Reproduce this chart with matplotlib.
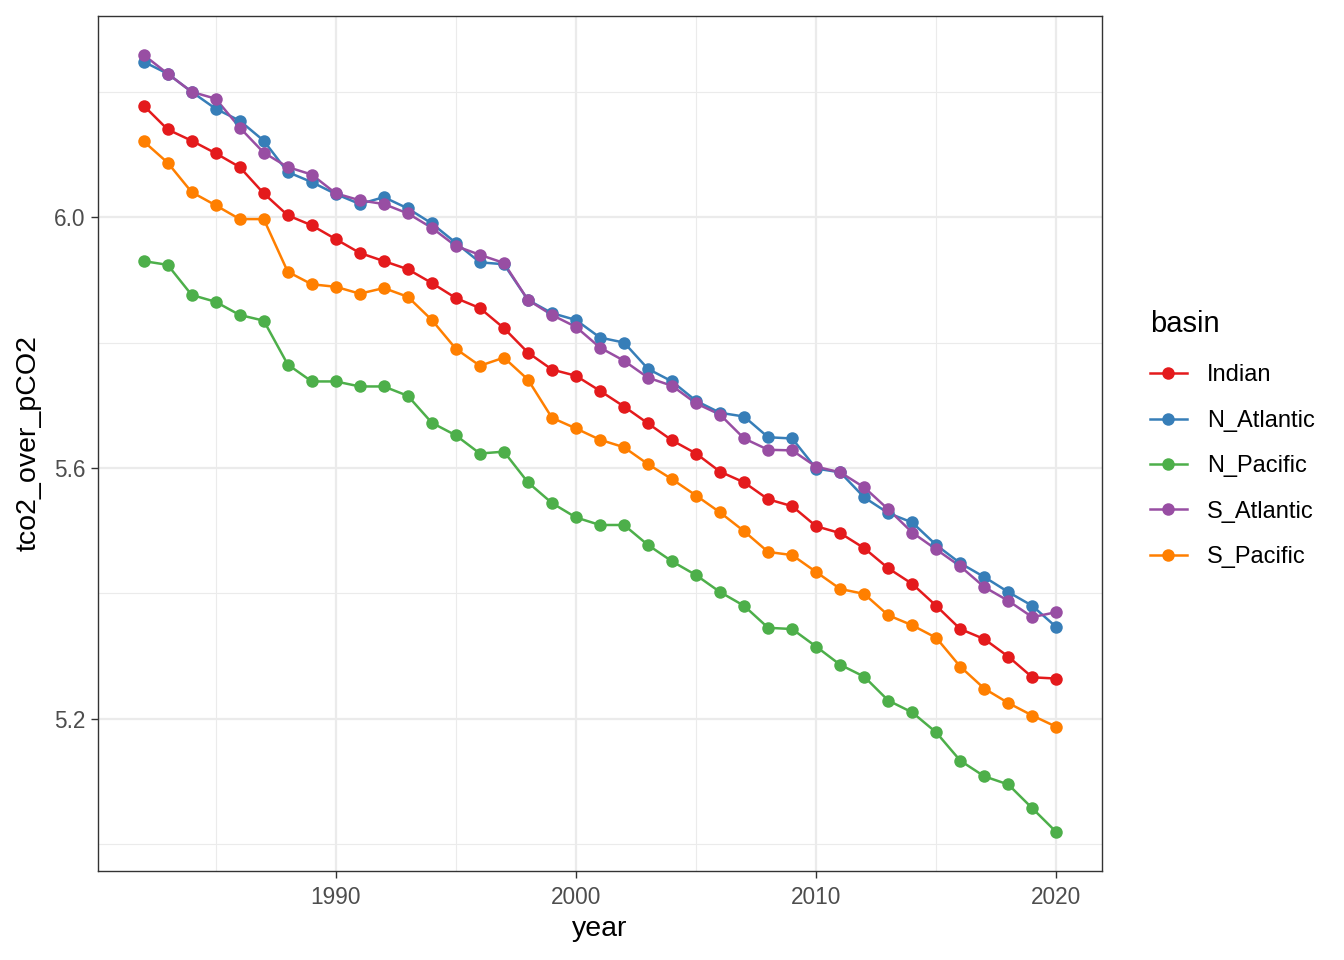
import matplotlib
matplotlib.use("Agg")
import matplotlib.pyplot as plt
from matplotlib.lines import Line2D
from matplotlib.ticker import MultipleLocator

plt.rcParams['font.family'] = ['Liberation Sans', 'DejaVu Sans']

years = list(range(1982, 2021))

indian = [6.178, 6.140, 6.122, 6.102, 6.080, 6.038, 6.003, 5.987, 5.965, 5.943,
          5.930, 5.917, 5.895, 5.871, 5.855, 5.823, 5.784, 5.757, 5.747, 5.723,
          5.698, 5.671, 5.644, 5.623, 5.594, 5.577, 5.550, 5.539, 5.507, 5.496,
          5.472, 5.440, 5.415, 5.380, 5.343, 5.327, 5.299, 5.266, 5.264]
n_atlantic = [6.248, 6.229, 6.200, 6.173, 6.154, 6.122, 6.072, 6.056, 6.037, 6.021,
              6.032, 6.014, 5.990, 5.959, 5.928, 5.925, 5.868, 5.847, 5.836, 5.808,
              5.800, 5.758, 5.738, 5.707, 5.688, 5.682, 5.649, 5.647, 5.599, 5.593,
              5.553, 5.528, 5.513, 5.477, 5.448, 5.426, 5.402, 5.380, 5.346]
n_pacific = [5.930, 5.924, 5.876, 5.865, 5.844, 5.835, 5.765, 5.738, 5.738, 5.730,
             5.730, 5.715, 5.672, 5.652, 5.623, 5.626, 5.577, 5.544, 5.521, 5.509,
             5.509, 5.477, 5.451, 5.429, 5.402, 5.380, 5.345, 5.343, 5.315, 5.286,
             5.267, 5.229, 5.210, 5.178, 5.133, 5.108, 5.095, 5.057, 5.019]
s_atlantic = [6.259, 6.229, 6.200, 6.189, 6.143, 6.103, 6.080, 6.068, 6.038, 6.027,
              6.021, 6.006, 5.983, 5.954, 5.940, 5.927, 5.868, 5.844, 5.825, 5.792,
              5.771, 5.744, 5.731, 5.703, 5.685, 5.647, 5.629, 5.628, 5.602, 5.593,
              5.569, 5.534, 5.497, 5.470, 5.443, 5.410, 5.388, 5.362, 5.370]
s_pacific = [6.121, 6.087, 6.040, 6.019, 5.997, 5.997, 5.913, 5.893, 5.889, 5.878,
             5.887, 5.873, 5.836, 5.790, 5.763, 5.776, 5.741, 5.680, 5.663, 5.645,
             5.633, 5.606, 5.582, 5.556, 5.529, 5.499, 5.466, 5.461, 5.434, 5.407,
             5.399, 5.365, 5.349, 5.329, 5.283, 5.248, 5.225, 5.205, 5.187]

basins = ['Indian', 'N_Atlantic', 'N_Pacific', 'S_Atlantic', 'S_Pacific']
series = [indian, n_atlantic, n_pacific, s_atlantic, s_pacific]
colors = ['#E41A1C', '#377EB8', '#4DAF4A', '#984EA3', '#FF7F00']

fig = plt.figure(figsize=(13.44, 9.6), dpi=100)
ax = fig.add_axes([98 / 1344, 89 / 960, 1004 / 1344, 855 / 960])

# lines first, then points (like geom_line + geom_point)
for vals, c in zip(series, colors):
    ax.plot(years, vals, color=c, linewidth=1.8, zorder=3)
for vals, c in zip(series, colors):
    ax.plot(years, vals, linestyle='none', marker='o', markersize=9,
            color=c, markeredgewidth=0, zorder=4)

ax.set_xlim(1980.1, 2021.9)
ax.set_ylim(4.957, 6.321)
ax.xaxis.set_minor_locator(MultipleLocator(5))
ax.yaxis.set_minor_locator(MultipleLocator(0.2))
ax.set_yticks([5.2, 5.6, 6.0])
ax.set_yticklabels(['5.2', '5.6', '6.0'])
ax.set_xticks([1990, 2000, 2010, 2020])

ax.grid(True, which='major', color='#EBEBEB', linewidth=1.6, zorder=0)
ax.grid(True, which='minor', color='#EBEBEB', linewidth=0.8, zorder=0)
ax.set_axisbelow(True)
for s in ax.spines.values():
    s.set_color('#333333')
    s.set_linewidth(1.0)
ax.tick_params(which='major', length=5, width=1.0, color='#333333',
               labelcolor='#4D4D4D', labelsize=16.3, pad=4)
ax.tick_params(axis='x', which='major', pad=6)
ax.tick_params(which='minor', length=0)

ax.set_xlabel('year', fontsize=20.5, labelpad=5)
ax.set_ylabel('tco2_over_pCO2', fontsize=20.5, labelpad=9)

handles = [Line2D([0], [0], color=c, linewidth=1.8, marker='o', markersize=9,
                  markeredgewidth=0) for c in colors]
leg = fig.legend(handles, basins, title='basin', loc='upper left',
                 bbox_to_anchor=(1150 / 1344, 1 - 310 / 960), frameon=False,
                 fontsize=17, title_fontsize=21, handlelength=1.55,
                 handletextpad=0.85, labelspacing=0.99, borderaxespad=0,
                 borderpad=0)
leg._legend_box.align = 'left'
leg._legend_box.sep = 19

fig.savefig('out.png', dpi=100)
